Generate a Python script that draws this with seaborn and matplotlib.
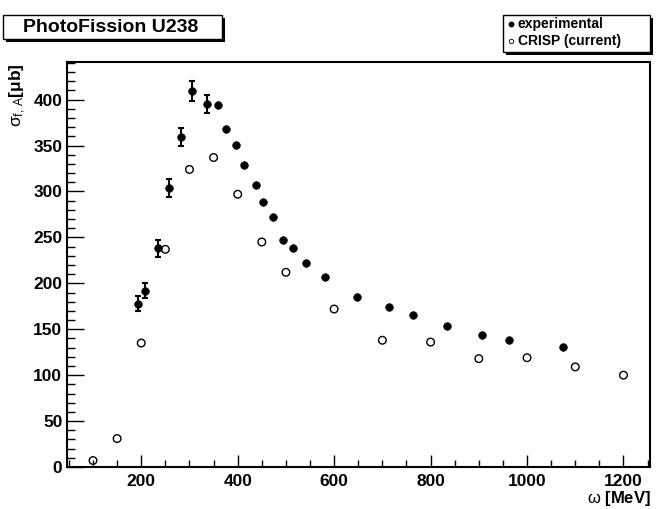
import numpy as np
import pandas as pd
import matplotlib
matplotlib.use("Agg")
import matplotlib.pyplot as plt
import seaborn as sns
from matplotlib.patches import Rectangle
from matplotlib.lines import Line2D
from matplotlib.ticker import MultipleLocator

# ---- data ----
exp_energy = [193, 207, 235, 258, 282, 306, 336, 360, 375, 397, 413, 439, 453, 473, 493,
              515, 542, 581, 648, 713, 763, 834, 906, 962, 1074]
exp_sigma = [178, 192, 238, 304, 359, 409, 395, 394, 368, 351, 329, 307, 289, 272, 247,
             238, 222, 207, 185, 174, 165, 153, 144, 138, 131]
exp_err = [8, 8, 9, 10, 10, 11, 10, 0, 0, 0, 0, 0, 0, 0, 0,
           0, 0, 0, 0, 0, 0, 0, 0, 0, 0]
crisp_energy = [100, 150, 200, 250, 300, 350, 400, 450, 500, 600, 700, 800, 900, 1000, 1100, 1200]
crisp_sigma = [7, 31, 135, 237, 324, 337, 297, 245, 212, 172, 138, 136, 118, 119, 109, 100]

title = "PhotoFission U238"
legend_labels = ["experimental", "CRISP (current)"]

exp_df = pd.DataFrame({"energy": exp_energy, "sigma": exp_sigma, "err": exp_err})
crisp_df = pd.DataFrame({"energy": crisp_energy, "sigma": crisp_sigma})

sns.set_style("ticks")
plt.rcParams["font.family"] = ["Liberation Sans", "DejaVu Sans"]
plt.rcParams["mathtext.fontset"] = "custom"
plt.rcParams["mathtext.rm"] = "Liberation Sans"
plt.rcParams["mathtext.it"] = "Liberation Sans"
plt.rcParams["mathtext.bf"] = "Liberation Sans:bold"
plt.rcParams["text.color"] = "black"
plt.rcParams["xtick.color"] = "black"
plt.rcParams["ytick.color"] = "black"
plt.rcParams["xtick.labelcolor"] = "black"
plt.rcParams["ytick.labelcolor"] = "black"

W, H = 664, 509
fig = plt.figure(figsize=(W / 100, H / 100), dpi=100)
fig.patch.set_facecolor("white")

def fx(px):
    return px / W

def fy(py):
    return 1 - py / H

ax = fig.add_axes([fx(66.5), fy(467), fx(650) - fx(66.5), fy(62) - fy(467)])

eb = exp_df[exp_df["err"] > 0]
ax.errorbar(eb["energy"], eb["sigma"], yerr=eb["err"], fmt="none", ecolor="black",
            elinewidth=1.5, capsize=2.2, capthick=1.5, zorder=2)
sns.scatterplot(data=exp_df, x="energy", y="sigma", ax=ax, s=30, color="black",
                edgecolor="black", linewidth=0.5, zorder=3, legend=False)
sns.scatterplot(data=crisp_df, x="energy", y="sigma", ax=ax, s=30, facecolor="none",
                edgecolor="black", linewidth=1.0, zorder=3, legend=False)

ax.set_xlim(45, 1255)
ax.set_ylim(0, 441)
ax.set_xlabel("")
ax.set_ylabel("")

ax.xaxis.set_major_locator(MultipleLocator(200))
ax.xaxis.set_minor_locator(MultipleLocator(50))
ax.yaxis.set_major_locator(MultipleLocator(50))
ax.yaxis.set_minor_locator(MultipleLocator(10))
ax.tick_params(axis="x", which="major", direction="in", length=9, width=1.0, pad=5,
               labelsize=12.5, top=False, colors="black")
ax.tick_params(axis="x", which="minor", direction="in", length=4.8, width=1.0, top=False,
               colors="black")
ax.tick_params(axis="y", which="major", direction="in", length=12.5, width=1.0, pad=3,
               labelsize=12.5, right=False, colors="black")
ax.tick_params(axis="y", which="minor", direction="in", length=6, width=1.0, right=False,
               colors="black")
for lab in ax.get_xticklabels() + ax.get_yticklabels():
    lab.set_fontweight("bold")
    lab.set_color("black")
for sp in ax.spines.values():
    sp.set_visible(True)
    sp.set_linewidth(1.5)
    sp.set_color("black")

# axis titles
fig.text(fx(651), fy(499), r"$\omega$ [MeV]", ha="right", va="center",
         fontsize=12, fontweight="bold", color="black")
fig.text(fx(18), fy(63), r"$\sigma_{f,\,A}$[μb]", ha="center", va="top",
         rotation=90, fontsize=12.5, fontweight="bold", color="black")

# title box with shadow
def shadow_box(x0, y0, x1, y1, off=3):
    fig.add_artist(Rectangle((fx(x0 + off), fy(y1 + off)), fx(x1 - x0), fy(y0) - fy(y1),
                             transform=fig.transFigure, facecolor="black",
                             edgecolor="black", lw=0, zorder=5))
    fig.add_artist(Rectangle((fx(x0), fy(y1)), fx(x1 - x0), fy(y0) - fy(y1),
                             transform=fig.transFigure, facecolor="white",
                             edgecolor="black", lw=1.0, zorder=6))

shadow_box(3, 15, 222, 39)
fig.text(fx(111), fy(27.5), title, ha="center", va="center", fontsize=14,
         fontweight="bold", zorder=7, color="black")

# legend box
shadow_box(503, 15, 650, 52)
fig.add_artist(Line2D([fx(511)], [fy(24)], transform=fig.transFigure, marker="o",
                      markersize=3.2, color="black", linestyle="none", zorder=7))
fig.add_artist(Line2D([fx(511)], [fy(41)], transform=fig.transFigure, marker="o",
                      markersize=3.2, markerfacecolor="white", markeredgecolor="black",
                      markeredgewidth=0.6, linestyle="none", zorder=7))
fig.text(fx(518), fy(24), legend_labels[0], ha="left", va="center", fontsize=10,
         fontweight="bold", zorder=7, color="black")
fig.text(fx(518), fy(41), legend_labels[1], ha="left", va="center", fontsize=10,
         fontweight="bold", zorder=7, color="black")

fig.savefig("out.png", dpi=100, facecolor="white")
